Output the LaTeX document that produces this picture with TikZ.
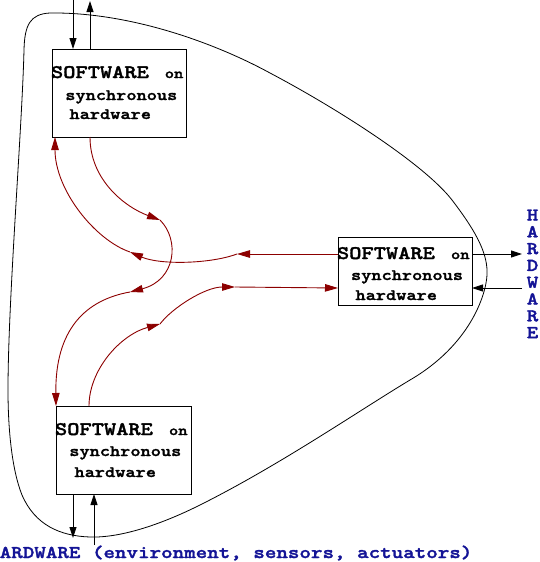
\documentclass[tikz,border=0pt]{standalone}
\usepackage{fontspec}
\newfontfamily\cour{lmmonolt10-bold.otf}[FakeStretch=1.22,FakeBold=1.8]
\usetikzlibrary{arrows.meta,calc}
\definecolor{chanred}{RGB}{140,0,0}
\definecolor{hwblue}{RGB}{20,20,150}
\begin{document}
\begin{tikzpicture}[x=1pt,y=-1pt,
  proc/.style={draw=black,line width=0.9pt,minimum width=134pt,inner sep=0pt,outer sep=0pt},
  lbl/.style={anchor=base west,inner sep=0pt,outer sep=0pt},
  bigtxt/.style={lbl,font=\cour\fontsize{19.1}{19.1}\selectfont},
  ontxt/.style={lbl,font=\cour\fontsize{14.5}{14.5}\selectfont},
  smtxt/.style={lbl,font=\cour\fontsize{15.9}{15.9}\selectfont},
  hwtxt/.style={inner sep=0pt,text=hwblue,font=\cour\fontsize{18}{18}\selectfont},
  io/.style={draw=black,line width=0.9pt,-{Triangle[length=11pt,width=7pt]}},
  chan/.style={draw=chanred,line width=0.9pt,-{Triangle[length=13pt,width=7.5pt]}},
  env/.style={draw=black,line width=0.8pt}]
\useasboundingbox (0,0) rectangle (540,562);
\clip (0,0) rectangle (540,562);

% environment boundary
\draw[env] (50,13) .. controls (130,12) and (215,43) .. (270,73)
  .. controls (340,110) and (425,165) .. (452,200)
  .. controls (478,234) and (488,255) .. (487,275)
  .. controls (486,295) and (470,345) .. (410,380)
  .. controls (360,410) and (280,465) .. (200,505)
  .. controls (160,525) and (120,538) .. (90,537)
  .. controls (60,536) and (35,525) .. (22,495)
  .. controls (12,470) and (8,430) .. (8,390)
  .. controls (8,300) and (22,130) .. (24,50)
  .. controls (24.6,25) and (30,14) .. cycle;

% processing units
\node[proc,minimum height=88pt] (b1) at (119,93) {};
\node[proc,minimum height=68pt] (b2) at (405,271) {};
\node[proc,minimum width=135pt,minimum height=88pt] (b3) at (123.5,450) {};

\node[bigtxt] (t1a) at (51,78) {SOFTWARE};
\node[ontxt]  (t1b) at (164.8,78) {on};
\node[smtxt]  (t1c) at (65.3,100) {synchronous};
\node[smtxt]  (t1d) at (69.5,119) {hardware};

\node[bigtxt] (t2a) at (337,259) {SOFTWARE};
\node[ontxt]  (t2b) at (451,259) {on};
\node[smtxt]  (t2c) at (351,280) {synchronous};
\node[smtxt]  (t2d) at (355.5,300) {hardware};

\node[bigtxt] (t3a) at (55,435) {SOFTWARE};
\node[ontxt]  (t3b) at (169,435) {on};
\node[smtxt]  (t3c) at (69.3,456) {synchronous};
\node[smtxt]  (t3d) at (74.5,477) {hardware};

% environment labels
\node[hwtxt,anchor=base west] (envbot) at (-12,558) {HARDWARE (environment, sensors, actuators)};
\node[hwtxt,anchor=base west] (envtop) at (-2,-5) {HARDWARE (environment, sensors, actuators)};
\foreach \ch [count=\i from 0] in {H,A,R,D,W,A,R,E}
  \node[hwtxt,font=\cour\fontsize{18}{18}\selectfont,anchor=base] (hw\i) at (532.5,{220.5+16.8*\i}) {\ch};

% junction points of the channels
\coordinate (k1) at (160,220);
\coordinate (k2) at (130,292);
\coordinate (k3) at (237,254);
\coordinate (k4) at (130,252);
\coordinate (k5) at (160,324);
\coordinate (k6) at (235,287);

% free ends of the environment links
\coordinate (topin)  at (73,-2);
\coordinate (topout) at (90,1);
\coordinate (botout) at (73,538);
\coordinate (botin)  at (94,545);
\coordinate (rgtout) at (522,254);
\coordinate (rgtin)  at (522,288);

% links to the environment
\draw[io] (topin) -- ($(b1.north west)+(21,0)$);
\draw[io] ($(b1.north west)+(38,0)$) -- (topout);
\draw[io] ($(b3.south west)+(17,0)$) -- (botout);
\draw[io] (botin) -- ($(b3.south west)+(38,0)$);
\draw[io] ($(b2.north east)+(0,17)$) -- (rgtout);
\draw[io] (rgtin) -- ($(b2.south east)+(0,-17)$);

% channel from the upper unit to the lower unit
\draw[chan] ($(b1.south west)+(38,0)$) .. controls (90,180) and (125,207) .. (k1);
\draw[chan] (k1) .. controls (180,240) and (176,280) .. (k2);
\draw[chan] (k2) .. controls (85,300) and (55,330) .. (b3.north west);

% channel from the right unit to the upper unit
\draw[chan] ($(b2.north west)+(0,17)$) -- (k3);
\draw[chan] (k3) .. controls (210,264) and (160,265) .. (k4);
\draw[chan] (k4) .. controls (95,240) and (55,190) .. ($(b1.south west)+(3,0)$);

% channel from the lower unit to the right unit
\draw[chan] ($(b3.north west)+(33,0)$) .. controls (89,370) and (120,335) .. (k5);
\draw[chan] (k5) .. controls (172,308) and (205,287) .. (k6);
\draw[chan] (k6) -- ($(b2.south west)+(0,-17)$);
\end{tikzpicture}
\end{document}
